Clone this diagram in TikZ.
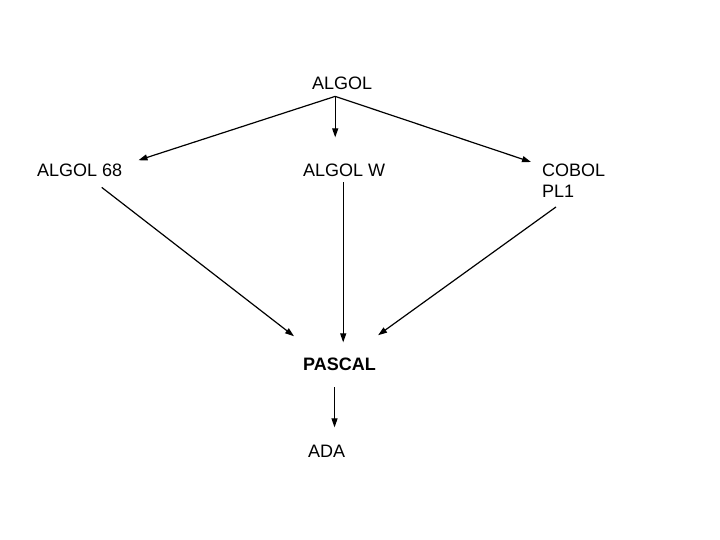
\documentclass[tikz,border=0pt]{standalone}
\usepackage{fontspec}
\setmainfont{Liberation Sans}
\usetikzlibrary{arrows.meta,positioning,calc}

\begin{document}
\begin{tikzpicture}[
    x=1pt, y=-1pt,
    font=\fontsize{18}{21}\selectfont,
    lang/.style={
        inner sep=0pt,
        anchor=base west,
        align=left
    },
    arr/.style={-{Triangle[length=9pt,width=6pt]}, line width=1.2pt}
]
\useasboundingbox (0,0) rectangle (720,540);

% top
\node[lang] (algol) at (312,90) {ALGOL};

% second row
\node[lang] (algol68) at (37,177) {ALGOL 68};
\node[lang] (algolw) at (303,177) {ALGOL W};
\node[lang, anchor=north west] (cobol) at (542,164) {COBOL\\PL1};

% third row
\node[lang] (pascal) at (303,370) {\bfseries PASCAL};
\node[lang] (ada) at (308,457) {ADA};

\draw[arr] ([xshift=-7pt,yshift=-6pt]algol.south) -- ([xshift=16pt,yshift=4pt]algol68.north east);
\draw[arr] ([xshift=-7pt,yshift=-6pt]algol.south) -- ++(0,41);
\draw[arr] ([xshift=-7pt,yshift=-6pt]algol.south) -- ([xshift=-11pt,yshift=2pt]cobol.north west);

\draw[arr] ([xshift=22pt,yshift=-10pt]algol68.south) -- ([xshift=-9pt,yshift=21pt]pascal.north west);
\draw[arr] ([xshift=-1pt,yshift=-5pt]algolw.south) -- ++(0,160);
\draw[arr] ([xshift=14pt,yshift=-9pt]cobol.south west) -- ([xshift=2pt,yshift=22pt]pascal.north east);

\draw[arr] ([xshift=-5pt,yshift=-17pt]pascal.south) -- ++(0,40);

\end{tikzpicture}
\end{document}
